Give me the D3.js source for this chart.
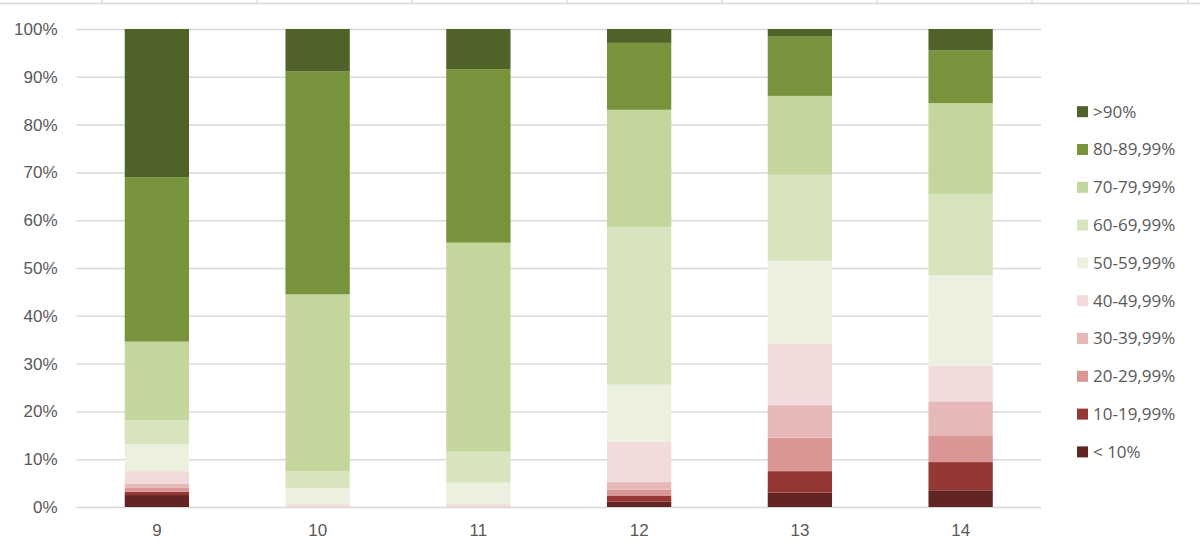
<!DOCTYPE html>
<html>
<head>
<meta charset="utf-8">
<script src="https://cdn.jsdelivr.net/npm/d3@7"></script>
<style>
  body { margin: 0; background: #fff; }
  svg { display: block; font-family: "Open Sans", sans-serif; }
  .domain { display: none; }
</style>
</head>
<body>
<svg id="canvas"></svg>
<script>
const width = 1200;
const height = 558;

// grades on the x axis
const grades = ["9", "10", "11", "12", "13", "14"];

// share of pupils per score band, bottom to top
const bands = ["< 10%", "10-19,99%", "20-29,99%", "30-39,99%", "40-49,99%",
               "50-59,99%", "60-69,99%", "70-79,99%", "80-89,99%", ">90%"];
const under10 = [2.5, 0, 0, 1.1, 3.0, 3.5];
const band10 = [0.7, 0, 0, 1.3, 4.5, 5.9];
const band20 = [0.9, 0, 0, 1.2, 7.0, 5.6];
const band30 = [0.7, 0, 0, 1.6, 6.8, 7.1];
const band40 = [2.7, 0.6, 0.6, 8.5, 12.8, 7.5];
const band50 = [5.7, 3.4, 4.5, 11.9, 17.4, 18.9];
const band60 = [4.9, 3.5, 6.5, 33.0, 18.0, 17.0];
const band70 = [16.5, 37.0, 43.7, 24.5, 16.5, 19.0];
const band80 = [34.4, 46.6, 36.3, 14.0, 12.4, 11.0];
const over90 = [31.0, 8.9, 8.4, 2.9, 1.6, 4.5];
const yTicks = [0, 10, 20, 30, 40, 50, 60, 70, 80, 90, 100];

const colors = ["#632523", "#953735", "#D99694", "#E6B9B8", "#F2DCDB",
                "#EBF1DE", "#D7E4BD", "#C3D69B", "#77933C", "#4F6228"];

const seriesValues = [under10, band10, band20, band30, band40,
                      band50, band60, band70, band80, over90];

const rows = grades.map((g, i) => {
    const row = { grade: g };
    bands.forEach((b, j) => row[b] = seriesValues[j][i]);
    return row;
});

const plotLeft = 76.5, plotRight = 1041, plotTop = 29, plotBottom = 507;

let svg = d3.select("#canvas")
            .attr("width", width)
            .attr("height", height);

// spreadsheet border strip at the very top
svg.append("line")
   .attr("x1", 0).attr("x2", width)
   .attr("y1", 3.5).attr("y2", 3.5)
   .attr("stroke", "#d9d9d9").attr("stroke-width", 1.5);
[102, 257, 412, 567, 722, 877, 1032, 1188].forEach(x => {
    svg.append("line")
       .attr("x1", x).attr("x2", x)
       .attr("y1", 0).attr("y2", 4)
       .attr("stroke", "#d0d0d0").attr("stroke-width", 1);
});

const xScale = d3.scaleBand()
                 .domain(grades)
                 .range([plotLeft, plotRight])
                 .paddingInner(0.6)
                 .paddingOuter(0.3);

const yScale = d3.scaleLinear()
                 .domain([0, 100])
                 .range([plotBottom, plotTop]);

// gridlines + y labels
const yAxis = d3.axisLeft(yScale)
                .tickValues(yTicks)
                .tickSize(-(plotRight - plotLeft))
                .tickPadding(19)
                .tickFormat(d => d + "%");
svg.append("g")
   .attr("id", "y-axis")
   .attr("transform", `translate(${plotLeft}, 0)`)
   .call(yAxis)
   .call(g => g.selectAll(".tick line").attr("stroke", "#d9d9d9").attr("stroke-width", 1.5))
   .call(g => g.selectAll(".tick text").attr("fill", "#595959").attr("font-size", 17));

const stack = d3.stack().keys(bands);
const layers = stack(rows);

svg.append("g")
   .selectAll("g")
   .data(layers)
   .enter()
   .append("g")
   .attr("fill", (d, i) => colors[i])
   .selectAll("rect")
   .data(d => d)
   .enter()
   .append("rect")
   .attr("x", d => xScale(d.data.grade))
   .attr("width", xScale.bandwidth())
   .attr("y", d => yScale(d[1]))
   .attr("height", d => yScale(d[0]) - yScale(d[1]));

// x labels
const xAxis = d3.axisBottom(xScale).tickSize(0).tickPadding(17);
svg.append("g")
   .attr("id", "x-axis")
   .attr("transform", `translate(0, ${plotBottom})`)
   .call(xAxis)
   .call(g => g.selectAll(".tick text").attr("fill", "#595959").attr("font-size", 17));

// legend, top item is the last band
const legend = svg.append("g").attr("id", "legend");
const legendItems = bands.slice().reverse();
legendItems.forEach((b, i) => {
    const y = 111.7 + i * 37.8;
    legend.append("rect")
          .attr("x", 1077).attr("y", y - 5.5)
          .attr("width", 11).attr("height", 11)
          .attr("fill", colors[bands.length - 1 - i]);
    legend.append("text")
          .attr("x", 1093).attr("y", y)
          .attr("dy", "0.35em")
          .attr("fill", "#595959")
          .attr("font-size", 17)
          .text(b);
});
</script>
</body>
</html>
